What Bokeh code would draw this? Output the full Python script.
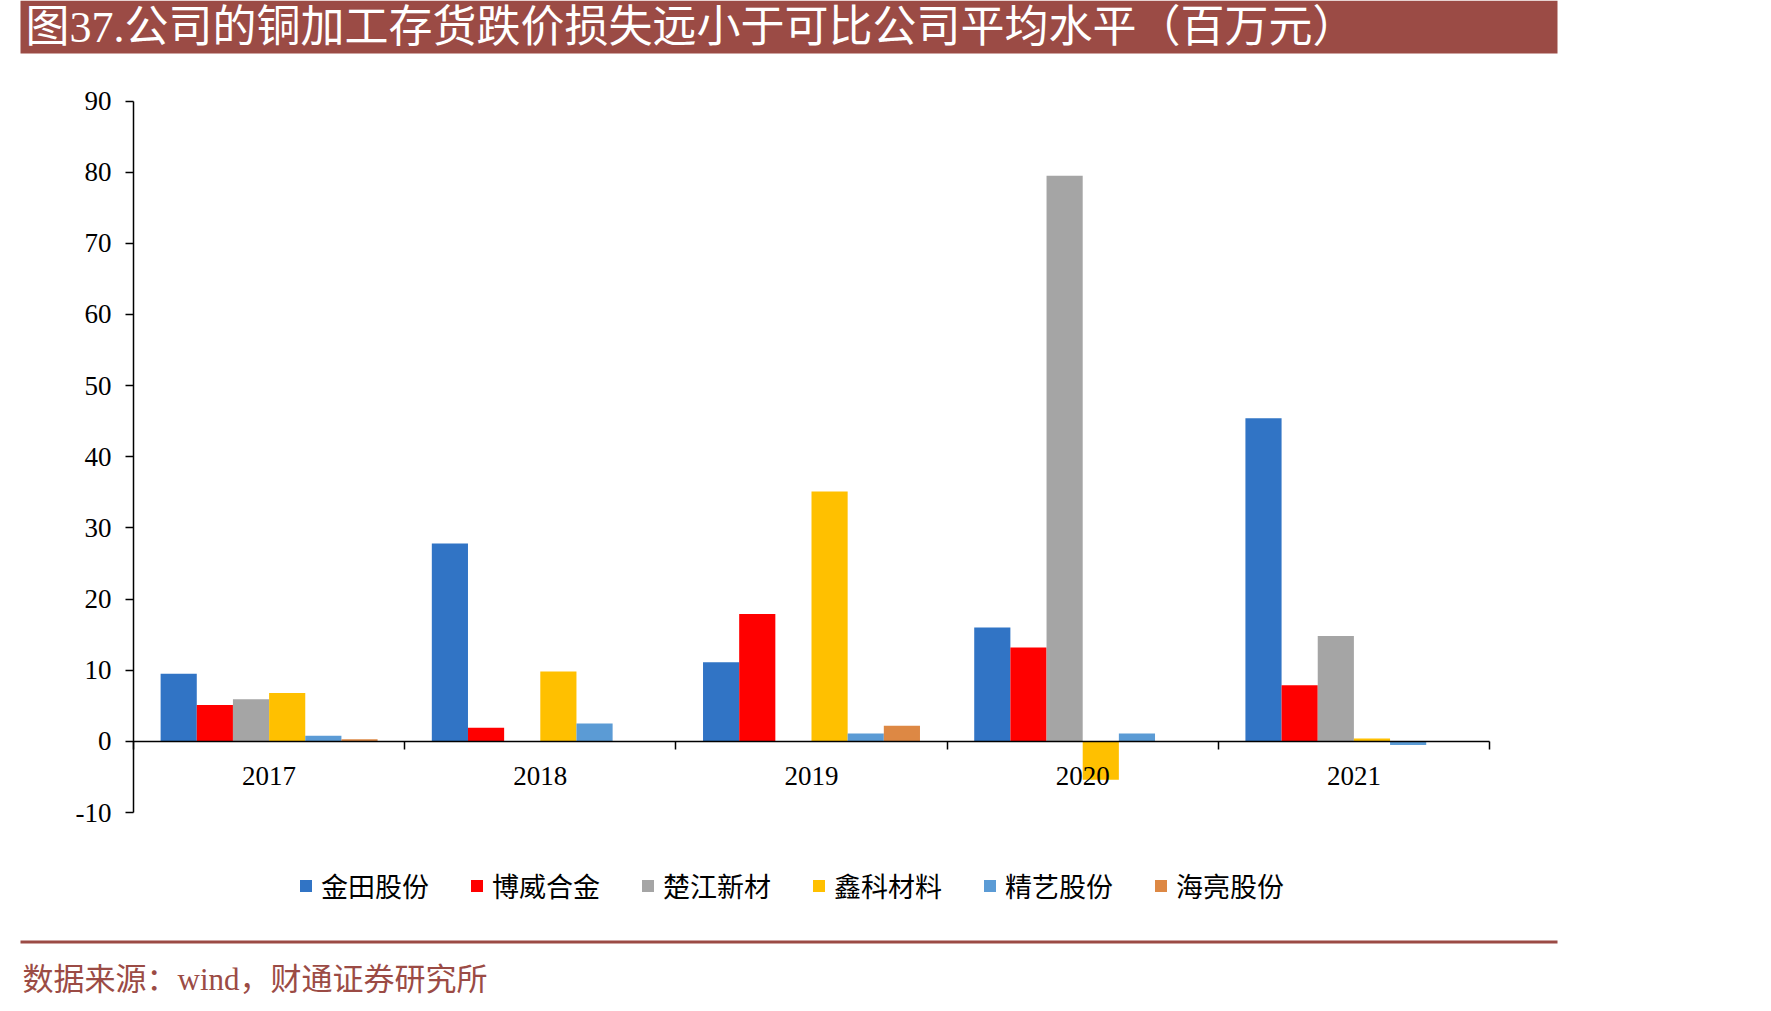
from bokeh.plotting import figure
from bokeh.models import (Range1d, LinearAxis, FixedTicker, Legend, LegendItem,
                          Label, BoxAnnotation)
from bokeh.embed import file_html
from bokeh.resources import INLINE
import numpy as np

# ---- data ----
years = ["2017", "2018", "2019", "2020", "2021"]
companies = ["金田股份", "博威合金", "楚江新材", "鑫科材料", "精艺股份", "海亮股份"]
jintian = [9.5, 27.8, 11.1, 16.0, 45.4]
bowei = [5.1, 1.9, 17.9, 13.2, 7.9]
chujiang = [5.9, 0.0, 0.0, 79.5, 14.8]
xinke = [6.8, 9.8, 35.1, -5.4, 0.4]
jingyi = [0.8, 2.5, 1.1, 1.1, -0.5]
hailiang = [0.3, 0.0, 2.2, 0.0, 0.0]
series = [jintian, bowei, chujiang, xinke, jingyi, hailiang]
colors = ["#3174C5", "#FF0000", "#A5A5A5", "#FFC000", "#5B9BD5", "#DD8844"]
y_ticks = [-10, 0, 10, 20, 30, 40, 50, 60, 70, 80, 90]
y_min, y_max = -10, 90

title_text = "图37.公司的铜加工存货跌价损失远小于可比公司平均水平（百万元）"
source_text = "数据来源：wind，财通证券研究所"

FONT = "'Liberation Serif', 'Noto Sans CJK SC'"
BRAND = "#9B4B45"

W, H = 1771, 1011
# plot-area placement on the canvas (pixels)
FL, FR, FT, FB = 133, 1489, 100.5, 812
ncat = len(years)
pxx = (FR - FL) / ncat
pxy = (FB - FT) / (y_max - y_min)
x_range = Range1d(-FL / pxx, ncat + (W - FR) / pxx)
y_range = Range1d(y_min - (H - FB) / pxy, y_max + FT / pxy)

p = figure(width=W, height=H, output_backend="svg", toolbar_location=None,
           x_range=x_range, y_range=y_range,
           x_axis_location=None, y_axis_location=None,
           min_border=0)
p.outline_line_color = None
p.grid.visible = False
p.background_fill_color = "white"
p.border_fill_color = "white"

n = len(series)
group_w = 0.8
bw = group_w / n
centers = np.arange(ncat) + 0.5
items = []
for j, (vals, col, name) in enumerate(zip(series, colors, companies)):
    xs = centers + (j - (n - 1) / 2) * bw
    r = p.vbar(x=xs, top=vals, bottom=0, width=bw, fill_color=col, line_color=None)
    items.append(LegendItem(label=name, renderers=[r]))

# y axis
yax = LinearAxis(ticker=FixedTicker(ticks=y_ticks, minor_ticks=[]),
                 fixed_location=0, bounds=(y_min, y_max))
yax.major_label_overrides = {t: str(t) for t in y_ticks}
yax.axis_line_color = "black"
yax.axis_line_width = 1.5
yax.major_tick_line_width = 1.5
yax.major_tick_in = 0
yax.major_tick_out = 8
yax.minor_tick_line_color = None
yax.major_label_standoff = 14
yax.major_label_text_font = FONT
yax.major_label_text_font_size = "27px"
yax.major_label_text_color = "black"
p.add_layout(yax, "left")

# x axis at y = 0
xax = LinearAxis(ticker=FixedTicker(ticks=list(centers), minor_ticks=list(range(ncat + 1))),
                 fixed_location=0, bounds=(0, ncat))
xax.major_label_overrides = {float(c): y for c, y in zip(centers, years)}
xax.axis_line_color = "black"
xax.axis_line_width = 1.5
xax.major_tick_in = 0
xax.major_tick_out = 0
xax.minor_tick_in = 0
xax.minor_tick_out = 8
xax.minor_tick_line_color = "black"
xax.minor_tick_line_width = 1.5
xax.major_label_standoff = 18
xax.major_label_text_font = FONT
xax.major_label_text_font_size = "27px"
xax.major_label_text_color = "black"
p.add_layout(xax, "below")

legend = Legend(items=items, orientation="horizontal", location=(298, 106),
                glyph_width=15, glyph_height=15, label_standoff=8, spacing=40,
                padding=0, margin=0, border_line_color=None, background_fill_alpha=0,
                label_text_font=FONT, label_text_font_size="27px", label_text_color="black")
p.add_layout(legend, "center")

# title banner
p.add_layout(BoxAnnotation(left=20, right=1557, top=0, bottom=53,
                           left_units="canvas", right_units="canvas",
                           top_units="canvas", bottom_units="canvas",
                           fill_color=BRAND, fill_alpha=1, line_color=None))
p.add_layout(Label(x=25, y=27, x_units="canvas", y_units="canvas", text=title_text,
                   text_color="white", text_font=FONT, text_font_size="44px",
                   text_baseline="middle"))
# footer
p.add_layout(BoxAnnotation(left=20, right=1557, top=940, bottom=943,
                           left_units="canvas", right_units="canvas",
                           top_units="canvas", bottom_units="canvas",
                           fill_color=BRAND, fill_alpha=1, line_color=None))
p.add_layout(Label(x=22, y=979, x_units="canvas", y_units="canvas", text=source_text,
                   text_color=BRAND, text_font=FONT, text_font_size="31px",
                   text_baseline="middle"))

open("out.html", "w").write(file_html(p, INLINE))
